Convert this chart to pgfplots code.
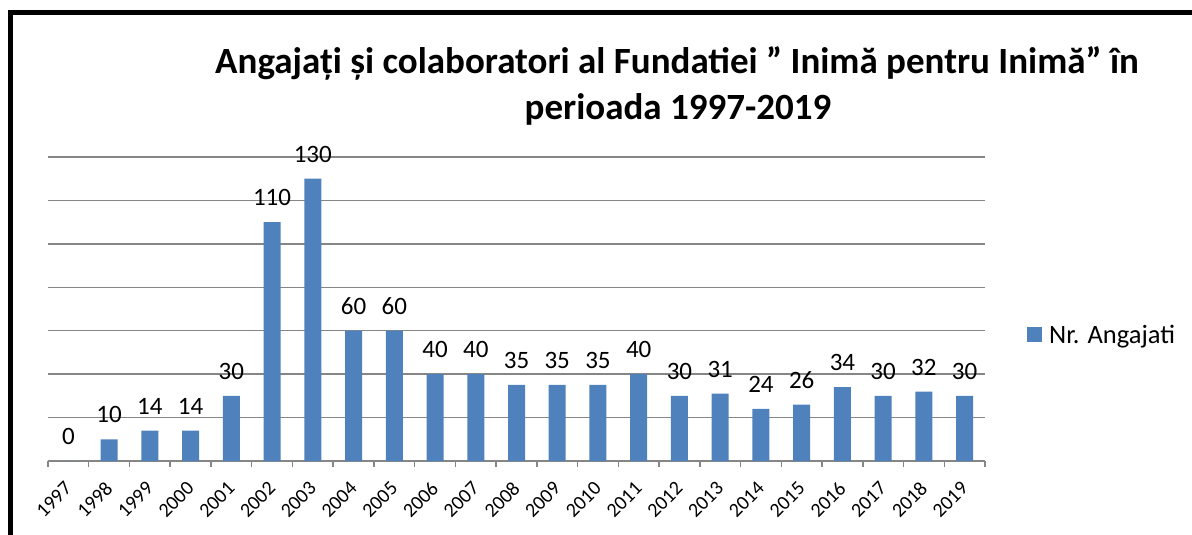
\documentclass[border=0pt]{standalone}
\usepackage{pgfplots}
\pgfplotsset{compat=1.18}
\usepackage{fontspec}
\setmainfont{Carlito}
\definecolor{barblue}{RGB}{79,129,189}
\definecolor{gridgray}{RGB}{134,134,134}
\begin{document}
\begin{tikzpicture}
\path[use as bounding box] (0,0) rectangle (1192bp,535bp);
\draw[black, line width=5bp] (10bp,0bp) -- (10bp,522.5bp) -- (1192bp,522.5bp);
\node[anchor=base, font=\fontsize{37bp}{44bp}\selectfont\bfseries] at (677bp,461bp) {Angajați și colaboratori al Fundatiei ” Inimă pentru Inimă” în};
\node[anchor=base, font=\fontsize{37bp}{44bp}\selectfont\bfseries] at (678bp,415bp) {perioada 1997-2019};
\begin{axis}[
  at={(48bp,74bp)}, anchor=south west,
  scale only axis, width=937bp, height=304bp,
  xmin=-0.5, xmax=22.5, ymin=0, ymax=140,
  clip=false,
  axis x line*=bottom, axis y line*=left,
  y axis line style={draw=none},
  x axis line style={draw=gridgray, line width=1.5bp},
  ytick={0,20,...,140}, yticklabels={}, ytick style={draw=none},
  ymajorgrids, major grid style={draw=gridgray, line width=1.5bp},
  xtick={0,...,22},
  xticklabels={1997,1998,1999,2000,2001,2002,2003,2004,2005,2006,2007,2008,2009,2010,2011,2012,2013,2014,2015,2016,2017,2018,2019},
  major x tick style={draw=none},
  major tick length=0pt,
  minor xtick={-0.5,0.5,...,22.5},
  minor tick length=6bp,
  minor x tick style={draw=gridgray, line width=1.5bp},
  tick align=outside,
  xticklabel style={font=\fontsize{20bp}{24bp}\selectfont, anchor=east, rotate=45, inner sep=0pt},
  xticklabel shift=24bp,
  /pgf/number format/assume math mode=true,
  nodes near coords,
  nodes near coords style={font=\fontsize{25bp}{30bp}\selectfont, anchor=south, inner sep=0pt, yshift=16bp},
  legend style={at={(1.0448,0.4145)}, anchor=west, draw=none, fill=none, inner sep=0pt,
    font=\fontsize{26.5bp}{31bp}\selectfont, nodes={inner sep=0pt}},
  legend image code/.code={\fill[#1] (0bp,-7.5bp) rectangle (15bp,7.5bp);},
]
\addplot[ybar, bar width=17bp, fill=barblue, draw=none] coordinates {
(0,0) (1,10) (2,14) (3,14) (4,30) (5,110) (6,130) (7,60) (8,60) (9,40) (10,40)
(11,35) (12,35) (13,35) (14,40) (15,30) (16,31) (17,24) (18,26) (19,34) (20,30) (21,32) (22,30)};
\addlegendentry{\hspace{7bp}Nr. Angajati}
\end{axis}
\end{tikzpicture}
\end{document}
